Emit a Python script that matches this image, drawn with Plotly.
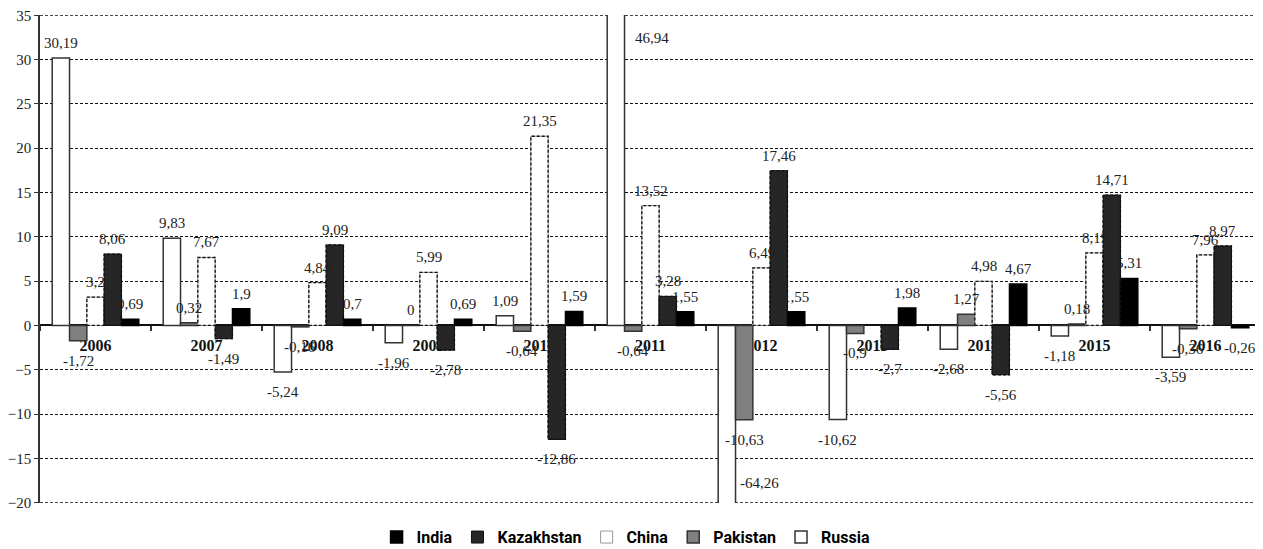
import plotly.graph_objects as go

years = ["2006", "2007", "2008", "2009", "2010", "2011", "2012", "2013", "2014", "2015", "2016"]

russia = [30.19, 9.83, -5.24, -1.96, 1.09, 46.94, -64.26, -10.62, -2.68, -1.18, -3.59]
pakistan = [-1.72, 0.32, -0.16, 0, -0.64, -0.64, -10.63, -0.9, 1.27, 0.18, -0.36]
china = [3.2, 7.67, 4.84, 5.99, 21.35, 13.52, 6.49, None, 4.98, 8.19, 7.96]
kazakhstan = [8.06, -1.49, 9.09, -2.78, -12.86, 3.28, 17.46, -2.7, -5.56, 14.71, 8.97]
india = [0.69, 1.9, 0.7, 0.69, 1.59, 1.55, 1.55, 1.98, 4.67, 5.31, -0.26]

series = [
    ("Russia", russia, "white", "#333333", 1.5, False),
    ("Pakistan", pakistan, "#808080", "#333333", 1.5, False),
    ("China", china, "white", "#999999", 1.0, True),
    ("Kazakhstan", kazakhstan, "#262626", "#111111", 1.0, True),
    ("India", india, "black", "black", 1.5, False),
]

YMIN, YMAX = -20, 35
PAD = 0.03
GAP = 0.22
BW = (1 - GAP) / len(series)
xs = list(range(len(years)))

fig = go.Figure()
shapes = []
annotations = []
serif = "Liberation Serif, DejaVu Serif, serif"

# dashed gridlines at both ends of the value axis
for yb in (YMIN, YMAX):
    shapes.append(dict(type="line", xref="paper", yref="y", x0=0, x1=1, y0=yb, y1=yb,
                       line=dict(color="#111111", width=1, dash="3px,2px"), layer="below"))

for k, (name, vals, fill, lc, lw, dashed) in enumerate(series):
    off = -(1 - GAP) / 2 + k * BW
    fig.add_trace(go.Bar(
        name=name, x=xs, y=vals, width=BW, offset=off,
        marker=dict(color=fill, line=dict(color=lc, width=lw)),
        hoverinfo="skip",
    ))
    for i, v in enumerate(vals):
        if v is None:
            continue
        x0, x1 = i + off, i + off + BW
        if dashed:
            shapes.append(dict(type="rect", xref="x", yref="y", x0=x0, x1=x1, y0=0, y1=v,
                               line=dict(color="#111111", width=1.3, dash="3px,2px"),
                               fillcolor="rgba(0,0,0,0)", layer="above"))
        txt = f"{v:g}".replace(".", ",")
        if v > YMAX:
            annotations.append(dict(x=x1, y=YMAX, xref="x", yref="y", text=txt, showarrow=False,
                                    xanchor="left", yanchor="middle", xshift=8, yshift=-23))
        elif v < YMIN:
            annotations.append(dict(x=x1, y=YMIN, xref="x", yref="y", text=txt, showarrow=False,
                                    xanchor="left", yanchor="middle", xshift=2, yshift=20))
        elif v >= 0:
            annotations.append(dict(x=(x0 + x1) / 2, y=v, xref="x", yref="y", text=txt, showarrow=False,
                                    xanchor="center", yanchor="middle", yshift=15))
        else:
            annotations.append(dict(x=(x0 + x1) / 2, y=v, xref="x", yref="y", text=txt, showarrow=False,
                                    xanchor="center", yanchor="middle", yshift=-20))

# page body has an 8px margin, so the figure is sized/offset to land on the 1263x549 window
fig.update_layout(
    width=1255, height=541, autosize=False,
    margin=dict(l=32, r=2, t=7, b=46, autoexpand=False),
    plot_bgcolor="white", paper_bgcolor="white",
    barmode="group", bargap=GAP, bargroupgap=0,
    font=dict(family=serif, size=15, color="#222222"),
    shapes=shapes,
    annotations=annotations,
    showlegend=True,
    legend=dict(orientation="h", x=0.48, xanchor="center", y=-0.07, yanchor="middle",
                traceorder="reversed", itemwidth=30,
                font=dict(family="Roboto, sans-serif", size=16, color="black", weight="bold")),
)

fig.update_xaxes(
    range=[-0.5, len(years) - 0.5],
    tickmode="array", tickvals=xs, ticktext=years,
    ticks="", ticklabelstandoff=6, automargin=False,
    tickfont=dict(family=serif, size=16, color="#111111", weight="bold"),
    showgrid=False, zeroline=False,
    showline=True, linecolor="#111111", linewidth=1.5,
    anchor="free", position=(0 - (YMIN - PAD)) / ((YMAX + PAD) - (YMIN - PAD)),
    layer="below traces",
    minor=dict(tickmode="linear", tick0=0.5, dtick=1, ticks="outside", ticklen=5,
               tickcolor="#333333", tickwidth=1.5, showgrid=False),
)

fig.update_yaxes(
    range=[YMIN - PAD, YMAX + PAD], tickmode="linear", tick0=0, dtick=5, automargin=False,
    ticklabeloverflow="allow",
    showgrid=True, gridcolor="#111111", gridwidth=1, griddash="3px,2px",
    zeroline=False,
    showline=True, linecolor="#333333", linewidth=1.5,
    ticks="outside", ticklen=4, tickcolor="#333333",
    tickfont=dict(family=serif, size=15, color="#222222"),
)

fig.write_html("out.html")
